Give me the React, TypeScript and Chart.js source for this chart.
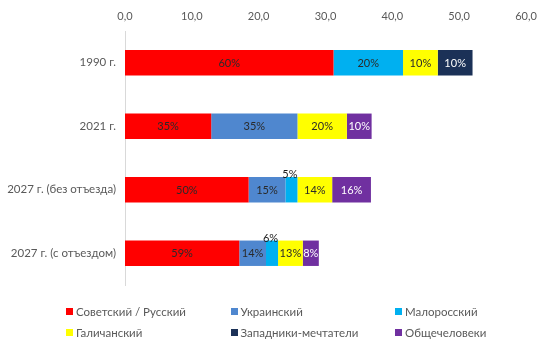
import React, { useEffect, useRef } from 'react';
import { Chart, registerables } from 'chart.js';

Chart.register(...registerables);

const categories = ['1990 г.', '2021 г.', '2027 г. (без отъезда)', '2027 г. (с отъездом)'];
const seriesNames = ['Советский / Русский', 'Украинский', 'Малоросский', 'Галичанский', 'Западники-мечтатели', 'Общечеловеки'];
const seriesColors = ['#FF0000', '#4F87CF', '#00B0F0', '#FFFF00', '#1B3157', '#7030A0'];
const labelColors = ['#2a2a2a', '#2a2a2a', '#2a2a2a', '#2a2a2a', '#FFFFFF', '#FFFFFF'];

const sovietRussian = [31.2, 12.9, 18.5, 17.1];
const ukrainian = [null, 12.9, 5.5, 4.0];
const maloross = [10.4, null, 1.8, 1.8];
const galician = [5.2, 7.4, 5.2, 3.7];
const westernDreamers = [5.2, null, null, null];
const universalHumans = [null, 3.7, 5.8, 2.4];

const seriesValues: (number | null)[][] = [sovietRussian, ukrainian, maloross, galician, westernDreamers, universalHumans];

const xMin = 0;
const xMax = 60;
const xStep = 10;

const FONT = 'Lato, "Open Sans", sans-serif';

const totals = categories.map((_, i) => seriesValues.reduce((s, arr) => s + (arr[i] ?? 0), 0));

const labelPlugin = {
  id: 'segLabels',
  afterDatasetsDraw(chart: any) {
    const ctx = chart.ctx;
    ctx.save();
    ctx.font = `11px ${FONT}`;
    ctx.textAlign = 'center';
    ctx.textBaseline = 'middle';
    chart.data.datasets.forEach((ds: any, di: number) => {
      const meta = chart.getDatasetMeta(di);
      meta.data.forEach((el: any, i: number) => {
        const v = ds.data[i];
        if (v == null) return;
        const p = el.getProps(['x', 'y', 'base', 'height'], true);
        const w = p.x - p.base;
        const text = Math.round((v / totals[i]) * 100) + '%';
        const cx = (p.x + p.base) / 2;
        if (w < 14) {
          ctx.fillStyle = '#1a1a1a';
          ctx.fillText(text, cx - 1.5, p.y - p.height / 2 - 2.5);
        } else {
          ctx.fillStyle = labelColors[di];
          ctx.fillText(text, cx, p.y + 0.5);
        }
      });
    });
    ctx.restore();
  },
};

export default function App() {
  const ref = useRef<HTMLCanvasElement | null>(null);

  useEffect(() => {
    if (!ref.current) return;
    const chart = new Chart(ref.current, {
      type: 'bar',
      data: {
        labels: categories,
        datasets: seriesNames.map((name, i) => ({
          label: name,
          data: seriesValues[i] as any,
          backgroundColor: seriesColors[i],
          borderWidth: 0,
          categoryPercentage: 1,
          barPercentage: 0.4,
        })),
      },
      options: {
        indexAxis: 'y',
        responsive: false,
        animation: false,
        devicePixelRatio: 1,
        layout: { padding: { top: 0, left: 0, right: 34, bottom: 66 } },
        plugins: {
          legend: { display: false },
          tooltip: { enabled: false },
        },
        scales: {
          x: {
            position: 'top',
            stacked: true,
            min: xMin,
            max: xMax,
            grid: { display: false, drawTicks: false },
            border: { display: false },
            ticks: {
              stepSize: xStep,
              padding: 8,
              color: '#595959',
              font: { family: FONT, size: 11 },
              callback: (v: any) => Number(v).toFixed(1).replace('.', ','),
            },
            afterFit: (s: any) => {
              s.height = 31;
            },
          },
          y: {
            stacked: true,
            grid: { display: false, drawTicks: false },
            border: { display: true, color: '#D9D9D9', width: 1 },
            ticks: {
              padding: 9,
              color: '#595959',
              font: { family: FONT, size: 11.5 },
            },
            afterFit: (s: any) => {
              s.width = 125;
            },
          },
        },
      },
      plugins: [labelPlugin],
    });
    return () => chart.destroy();
  }, []);

  return (
    <div style={{ position: 'fixed', left: 0, top: 0, width: 560, height: 351, background: '#fff', overflow: 'hidden' }}>
      <canvas ref={ref} width={560} height={351} style={{ position: 'absolute', left: 0, top: 0 }} />
      {seriesNames.map((name, i) => {
        const col = i % 3;
        const row = Math.floor(i / 3);
        return (
          <div
            key={name}
            style={{
              position: 'absolute',
              left: 66 + col * 164.5,
              top: 303 + row * 21,
              height: 16,
              display: 'flex',
              alignItems: 'center',
              fontFamily: FONT,
              fontSize: 11.5,
              color: '#595959',
              whiteSpace: 'nowrap',
            }}
          >
            <span style={{ display: 'inline-block', width: 7, height: 7, background: seriesColors[i], marginRight: 3 }} />
            {name}
          </div>
        );
      })}
    </div>
  );
}
